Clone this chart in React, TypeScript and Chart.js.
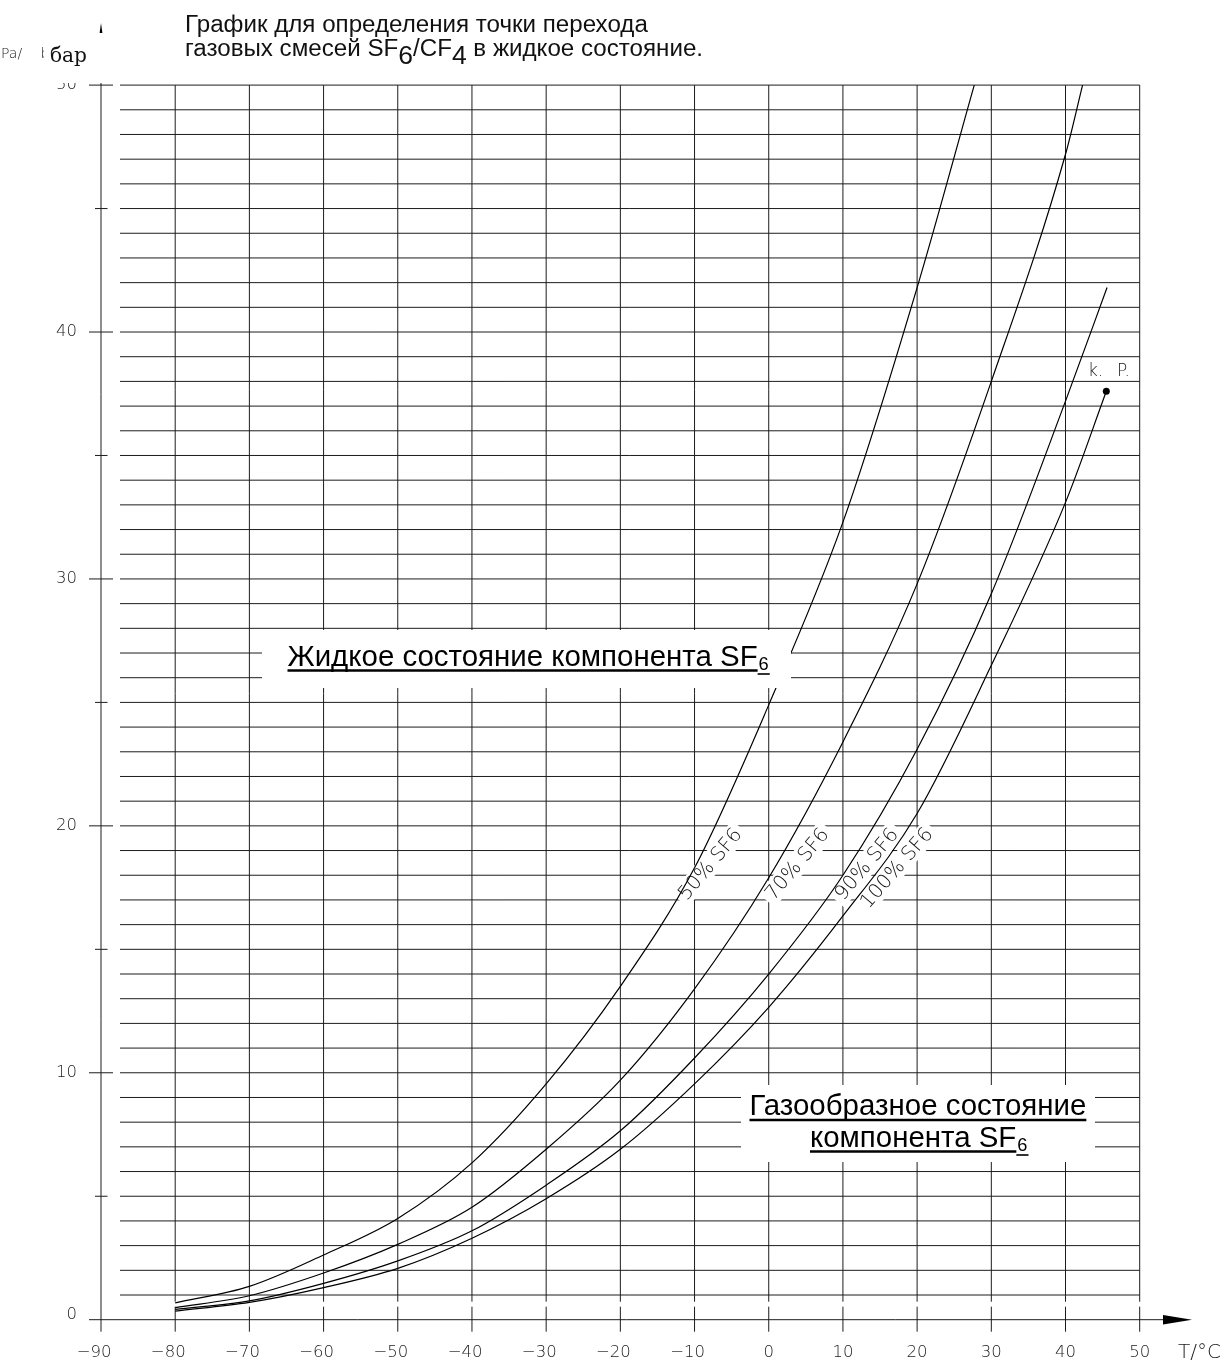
import { useEffect, useRef } from 'react';
import { Chart, registerables } from 'chart.js';

Chart.register(...registerables);

// ---------- data ----------
const X_TICKS = [-90, -80, -70, -60, -50, -40, -30, -20, -10, 0, 10, 20, 30, 40, 50];
const X_TICK_LABELS = ['−90', '−80', '−70', '−60', '−50', '−40', '−30', '−20', '−10', '0', '10', '20', '30', '40', '50'];
const Y_MAJOR = [0, 10, 20, 30, 40, 50];
const Y_MAJOR_LABELS = ['0', '10', '20', '30', '40', '50'];
const Y_MINOR = [5, 15, 25, 35, 45];
const Y_GRID_STEP = 1;

const T50 = [-80, -70, -60, -50, -40, -30, -20, -10, 0, 10, 20, 27.7];
const P50 = [0.68, 1.35, 2.62, 4.1, 6.35, 9.55, 13.5, 18.3, 24.9, 32.3, 41.8, 50];

const T70 = [-80, -70, -60, -50, -40, -30, -20, -10, 0, 10, 20, 30, 40, 42.3];
const P70 = [0.49, 0.97, 1.89, 3.05, 4.55, 6.9, 9.7, 13.4, 17.9, 23.4, 29.8, 38.0, 47.2, 50];

const T90 = [-80, -70, -60, -50, -40, -30, -20, -10, 0, 10, 20, 30, 40, 45.6];
const P90 = [0.42, 0.76, 1.47, 2.38, 3.6, 5.45, 7.65, 10.6, 14.0, 18.0, 23.1, 29.4, 37.2, 41.8];

const T100 = [-80, -70, -60, -50, -40, -30, -20, -10, 0, 10, 20, 30, 40, 45.5];
const P100 = [0.35, 0.7, 1.3, 2.08, 3.3, 4.9, 6.9, 9.55, 12.65, 16.35, 20.5, 26.5, 33.1, 37.6];

const SERIES_LABELS = ['50% SF6', '70% SF6', '90% SF6', '100% SF6'];

const TITLE_1 = 'График для определения точки перехода';
const TITLE_2 = ['газовых смесей SF', '6', '/CF', '4', ' в жидкое состояние.'];
const LIQUID = ['Жидкое состояние компонента SF', '6'];
const GAS_1 = 'Газообразное состояние';
const GAS_2 = ['компонента SF', '6'];
const X_UNIT = 'T/°C';
const Y_UNIT = 'бар';

// ---------- layout (pixels) ----------
const W = 1226;
const H = 1362;
const PLOT = { left: 101, right: 1139.7, top: 85.1, bottom: 1319.7 };
const CAD = "'DejaVu Sans'";
const SANS = "'Liberation Sans', Arial, sans-serif";

const LABEL_POS = [
  { x: 710, y: 864, a: -50 },
  { x: 797, y: 864, a: -50 },
  { x: 866.5, y: 864, a: -50 },
  { x: 896.5, y: 868, a: -49 },
];

function pts(t: number[], p: number[]) {
  return t.map((v, i) => ({ x: v, y: p[i] }));
}

function fit(ctx: CanvasRenderingContext2D, text: string, family: string, weight: string, target: number) {
  ctx.font = `${weight} 20px ${family}`;
  const w = ctx.measureText(text).width;
  return (20 * target) / w;
}

function line(ctx: CanvasRenderingContext2D, x1: number, y1: number, x2: number, y2: number) {
  ctx.beginPath();
  ctx.moveTo(x1, y1);
  ctx.lineTo(x2, y2);
  ctx.stroke();
}

const decor = {
  id: 'decor',
  beforeDatasetsDraw(chart: any) {
    const ctx: CanvasRenderingContext2D = chart.ctx;
    const xs = chart.scales.x;
    const ys = chart.scales.y;
    const y0 = ys.getPixelForValue(0);
    const yTop = ys.getPixelForValue(50);
    const xRight = xs.getPixelForValue(50);
    const x0 = xs.getPixelForValue(-90);
    ctx.save();
    ctx.strokeStyle = '#1c1c1c';
    ctx.lineWidth = 1;
    // horizontal grid
    for (let p = Y_GRID_STEP; p <= 50; p += Y_GRID_STEP) {
      const y = ys.getPixelForValue(p);
      line(ctx, x0 + 19, y, xRight, y);
    }
    // vertical grid + ticks
    X_TICKS.forEach((t) => {
      if (t === -90) return;
      const x = xs.getPixelForValue(t);
      line(ctx, x, yTop, x, y0 - 18);
      line(ctx, x, y0 - 13, x, y0 + 12);
    });
    // y axis
    line(ctx, x0, yTop - 3, x0, y0 + 12);
    Y_MAJOR.forEach((p) => {
      if (p === 0) return;
      const y = ys.getPixelForValue(p);
      line(ctx, x0 - 12, y, x0 + 12, y);
    });
    Y_MINOR.forEach((p) => {
      const y = ys.getPixelForValue(p);
      line(ctx, x0 - 6, y, x0 + 6.5, y);
    });
    // x axis with arrow
    line(ctx, x0 - 12, y0, 1164, y0);
    ctx.fillStyle = '#000';
    ctx.beginPath();
    ctx.moveTo(1163, y0 - 4.7);
    ctx.lineTo(1192, y0);
    ctx.lineTo(1163, y0 + 4.7);
    ctx.closePath();
    ctx.fill();
    // small y arrow head
    ctx.beginPath();
    ctx.moveTo(x0, 23);
    ctx.lineTo(x0 + 1.4, 33);
    ctx.lineTo(x0 - 1.4, 33);
    ctx.closePath();
    ctx.fill();

    // curve labels with white background
    const fs = fit(ctx, SERIES_LABELS[0], CAD, '300', 87);
    ctx.font = `300 ${fs}px ${CAD}`;
    ctx.textAlign = 'center';
    ctx.textBaseline = 'middle';
    SERIES_LABELS.forEach((s, i) => {
      const L = LABEL_POS[i];
      ctx.save();
      ctx.translate(L.x, L.y);
      ctx.rotate((L.a * Math.PI) / 180);
      const w = ctx.measureText(s).width;
      ctx.fillStyle = '#fff';
      ctx.fillRect(-w / 2 - 4, -fs * 0.55, w + 8, fs * 1.1);
      ctx.fillStyle = '#111';
      ctx.fillText(s, 0, 1);
      ctx.restore();
    });
    ctx.restore();
  },
  afterDatasetsDraw(chart: any) {
    const ctx: CanvasRenderingContext2D = chart.ctx;
    const xs = chart.scales.x;
    const ys = chart.scales.y;
    const y0 = ys.getPixelForValue(0);
    ctx.save();
    ctx.fillStyle = '#222';
    ctx.textBaseline = 'middle';

    // x tick labels
    const tickFont = `300 16.5px ${CAD}`;
    ctx.font = tickFont;
    X_TICK_LABELS.forEach((lab, i) => {
      const x = xs.getPixelForValue(X_TICKS[i]);
      const digits = lab.replace('−', '');
      const wd = ctx.measureText(digits).width;
      ctx.textAlign = 'right';
      ctx.fillText(lab, x + wd / 2, 1353);
    });
    ctx.textAlign = 'left';
    const us = fit(ctx, X_UNIT, CAD, '300', 43);
    ctx.font = `300 ${us}px ${CAD}`;
    ctx.fillText(X_UNIT, 1178, 1353);

    // y tick labels
    ctx.font = tickFont;
    ctx.textAlign = 'right';
    Y_MAJOR.forEach((p, i) => {
      const y = p === 0 ? y0 - 5 : ys.getPixelForValue(p);
      ctx.fillText(Y_MAJOR_LABELS[i], 77, y);
    });

    // unit label area
    ctx.textAlign = 'left';
    ctx.textBaseline = 'alphabetic';
    ctx.font = `300 14px ${CAD}`;
    ctx.fillText('Pa/', 1, 57.5);
    ctx.fillText('b', 40.5, 57.5);
    ctx.fillStyle = '#fff';
    ctx.fillRect(44, 34, 72, 49);
    ctx.fillStyle = '#111';
    const bs = fit(ctx, Y_UNIT, "'DejaVu Serif', serif", 'normal', 37);
    ctx.font = `normal ${bs}px 'DejaVu Serif', serif`;
    ctx.fillText(Y_UNIT, 50, 61.5);

    // critical point label
    ctx.fillStyle = '#222';
    ctx.font = `300 17px ${CAD}`;
    ctx.fillText('k.', 1088, 376);
    ctx.fillText('P.', 1117, 376);

    // title
    ctx.fillStyle = '#111';
    const ts = fit(ctx, TITLE_1, SANS, 'normal', 463);
    ctx.font = `normal ${ts}px ${SANS}`;
    ctx.fillText(TITLE_1, 185, 31.5);
    let tx = 185;
    TITLE_2.forEach((seg, i) => {
      const sub = i === 1 || i === 3;
      ctx.font = `normal ${sub ? ts * 1.1 : ts}px ${SANS}`;
      ctx.fillText(seg, tx, sub ? 64 : 56);
      tx += ctx.measureText(seg).width;
    });

    // big labels with white boxes
    ctx.fillStyle = '#fff';
    ctx.fillRect(262, 630, 529, 58);
    ctx.fillRect(741, 1085, 354, 77);
    const bsz = fit(ctx, GAS_1, SANS, 'normal', 337);
    const drawUnder = (parts: string[], x: number, base: number) => {
      ctx.fillStyle = '#000';
      ctx.strokeStyle = '#000';
      ctx.font = `normal ${bsz}px ${SANS}`;
      ctx.fillText(parts[0], x, base);
      const w0 = ctx.measureText(parts[0]).width;
      ctx.lineWidth = 2.6;
      line(ctx, x, base + 5, x + w0, base + 5);
      if (parts[1]) {
        ctx.font = `normal ${bsz * 0.62}px ${SANS}`;
        ctx.fillText(parts[1], x + w0 + 1, base + 4.5);
        const w1 = ctx.measureText(parts[1]).width;
        ctx.lineWidth = 1.6;
        line(ctx, x + w0, base + 8.5, x + w0 + w1 + 2, base + 8.5);
      }
    };
    drawUnder(LIQUID, 287.5, 665.5);
    drawUnder([GAS_1], 749.5, 1115);
    drawUnder(GAS_2, 810, 1146.5);
    ctx.restore();
  },
};

export default function App() {
  const ref = useRef<HTMLCanvasElement>(null);
  useEffect(() => {
    const ds = (t: number[], p: number[], label: string, last = false) => ({
      label,
      data: pts(t, p),
      showLine: true,
      borderColor: '#000',
      borderWidth: 1.2,
      cubicInterpolationMode: 'monotone' as const,
      pointRadius: t.map((_, i) => (last && i === t.length - 1 ? 3.5 : 0)),
      pointBackgroundColor: '#000',
      pointBorderColor: '#000',
      pointBorderWidth: 0,
      clip: 4,
    });
    const chart = new Chart(ref.current!, {
      type: 'scatter',
      data: {
        datasets: [
          ds(T50, P50, SERIES_LABELS[0]),
          ds(T70, P70, SERIES_LABELS[1]),
          ds(T90, P90, SERIES_LABELS[2]),
          ds(T100, P100, SERIES_LABELS[3], true),
        ],
      },
      options: {
        responsive: false,
        animation: false,
        devicePixelRatio: 1,
        events: [],
        layout: {
          padding: {
            left: PLOT.left,
            right: W - PLOT.right,
            top: PLOT.top,
            bottom: H - PLOT.bottom,
          },
        },
        scales: {
          x: { type: 'linear', min: -90, max: 50, display: false },
          y: { type: 'linear', min: 0, max: 50, display: false },
        },
        plugins: {
          legend: { display: false },
          tooltip: { enabled: false },
        },
      },
      plugins: [decor],
    } as any);
    return () => chart.destroy();
  }, []);
  return (
    <div style={{ position: 'absolute', left: 0, top: 0, width: W, height: H, background: '#fff' }}>
      <canvas ref={ref} width={W} height={H} style={{ display: 'block', width: W, height: H }} />
    </div>
  );
}
